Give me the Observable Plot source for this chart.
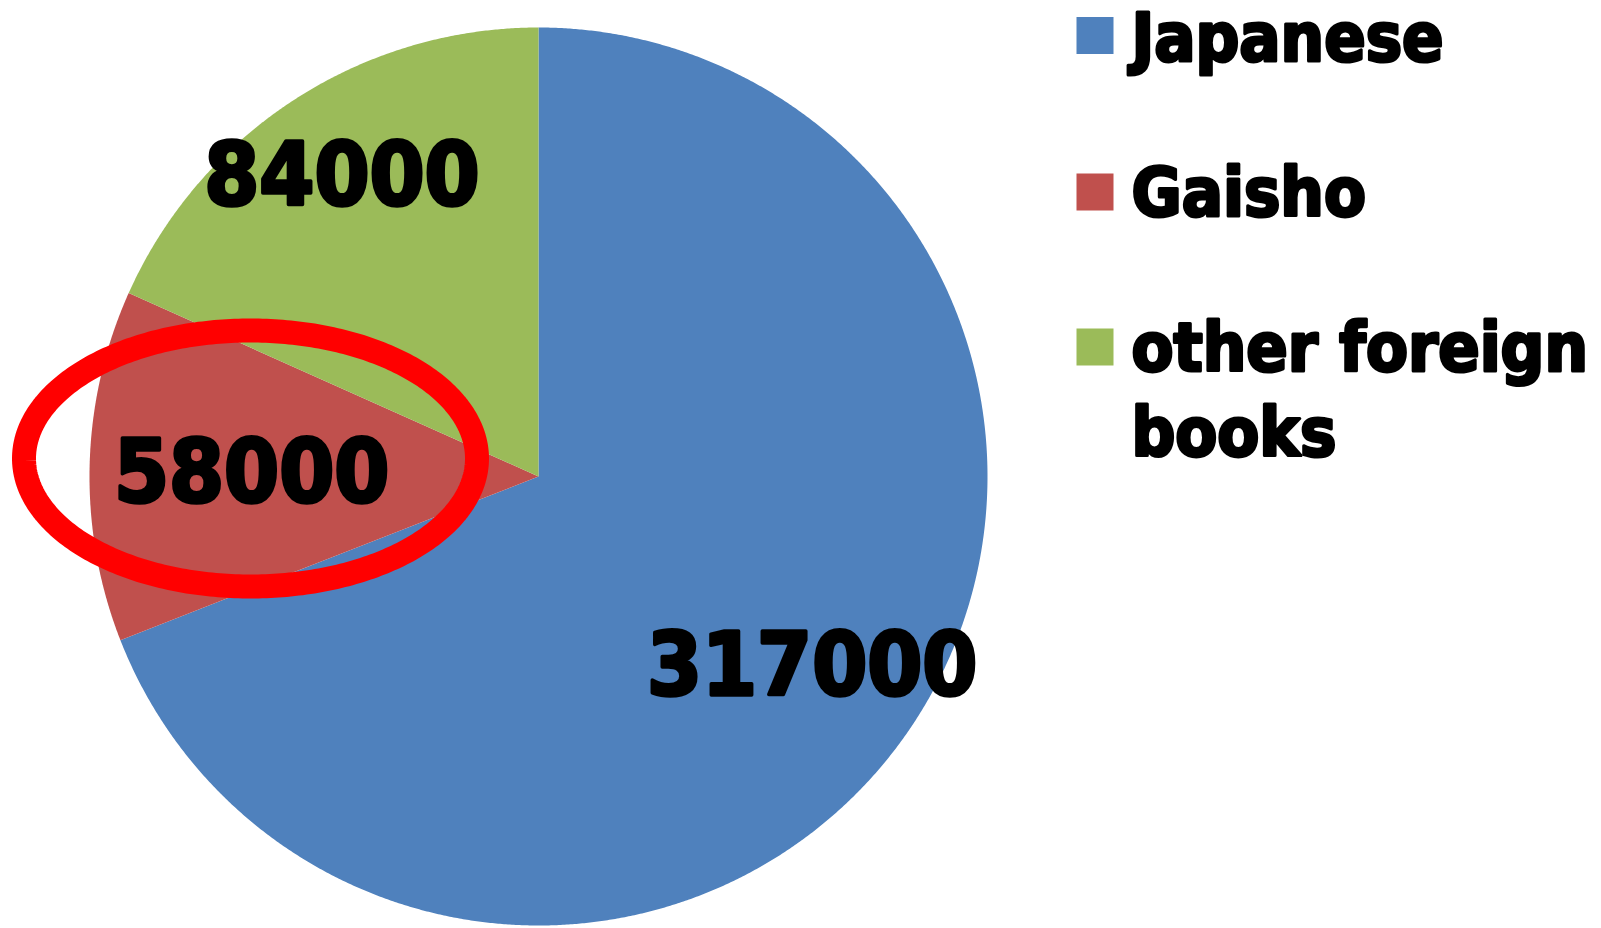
<!DOCTYPE html>
<html>
<head>
<meta charset="utf-8">
<script src="https://cdn.jsdelivr.net/npm/d3@7"></script>
<script src="https://cdn.jsdelivr.net/npm/@observablehq/plot@0.6"></script>
<style>
  html, body { margin: 0; padding: 0; background: #ffffff; }
  #chart svg text { font-stretch: condensed; }
</style>
</head>
<body>
<div id="chart"></div>
<script>
// ---- data ----
const categories = ["Japanese", "Gaisho", "other foreign books"];
const values = [317000, 58000, 84000];
const valueLabels = ["317000", "58000", "84000"];
const legendLabels = ["Japanese", "Gaisho", "other foreign\nbooks"];
const colors = ["#4F81BD", "#C0504D", "#9BBB59"];

// ---- layout ----
const W = 1601, H = 928;
const cx = 538, cy = 476, R = 449;
const labelRadius = [0.738, 0.639, 0.805];
const font = "'DejaVu Sans Condensed', 'DejaVu Sans', sans-serif";

// pie geometry (unit circle, angles clockwise from 12 o'clock)
const arcs = d3.pie().sort(null)(values);
const slicePts = [];
arcs.forEach((a, i) => {
  slicePts.push({cat: categories[i], x: 0, y: 0});
  const n = Math.max(2, Math.ceil((a.endAngle - a.startAngle) / (Math.PI / 720)));
  for (let k = 0; k <= n; k++) {
    const t = a.startAngle + (a.endAngle - a.startAngle) * k / n;
    slicePts.push({cat: categories[i], x: Math.sin(t), y: Math.cos(t)});
  }
});

const labelPts = arcs.map((a, i) => {
  const m = (a.startAngle + a.endAngle) / 2;
  return {cat: categories[i], text: valueLabels[i], x: labelRadius[i] * Math.sin(m), y: labelRadius[i] * Math.cos(m)};
});

// annotation ellipse around the Gaisho label (unit coords)
const ell = {cx: (250 - cx) / R, cy: (cy - 458) / R, rx: 226.5 / R, ry: 128 / R};
const ellPts = d3.range(0, 360, 1).map(d => {
  const t = d * Math.PI / 180;
  return {x: ell.cx + ell.rx * Math.cos(t), y: ell.cy + ell.ry * Math.sin(t)};
});

// legend layout
const legendSquareY = [35, 191.5, 346.5];
const legendTextY = [0, 155, 310];

const marks = [
  Plot.line(slicePts, {x: "x", y: "y", z: "cat", fill: "cat", stroke: "none"}),
  Plot.text(labelPts, {x: "x", y: "y", text: "text", dy: 4, fill: "black", stroke: "black", strokeWidth: 3.5,
    fontSize: 88, fontWeight: "bold", fontFamily: font, textAnchor: "middle", lineAnchor: "middle"}),
  Plot.line(ellPts, {x: "x", y: "y", stroke: "#FF0000", strokeWidth: 24, curve: "linear-closed"})
];

categories.forEach((c, i) => {
  marks.push(Plot.dot([c], {frameAnchor: "top-left", dx: 1094.5, dy: legendSquareY[i],
    r: 37 / Math.sqrt(Math.PI), symbol: "square", fill: d => d, stroke: "none"}));
  marks.push(Plot.text([legendLabels[i]], {frameAnchor: "top-left", dx: 1131, dy: legendTextY[i],
    text: d => d, textAnchor: "start", lineAnchor: "top", fill: "black", stroke: "black", strokeWidth: 3,
    fontSize: 68, fontWeight: "bold", fontFamily: font, lineHeight: 1.25}));
});

const chart = Plot.plot({
  width: W,
  height: H,
  margin: 0,
  style: {background: "#ffffff", overflow: "visible"},
  x: {domain: [-1, 1], range: [cx - R, cx + R], axis: null},
  y: {domain: [-1, 1], range: [cy + R, cy - R], axis: null},
  color: {domain: categories, range: colors},
  marks
});
document.getElementById("chart").appendChild(chart);
</script>
</body>
</html>
